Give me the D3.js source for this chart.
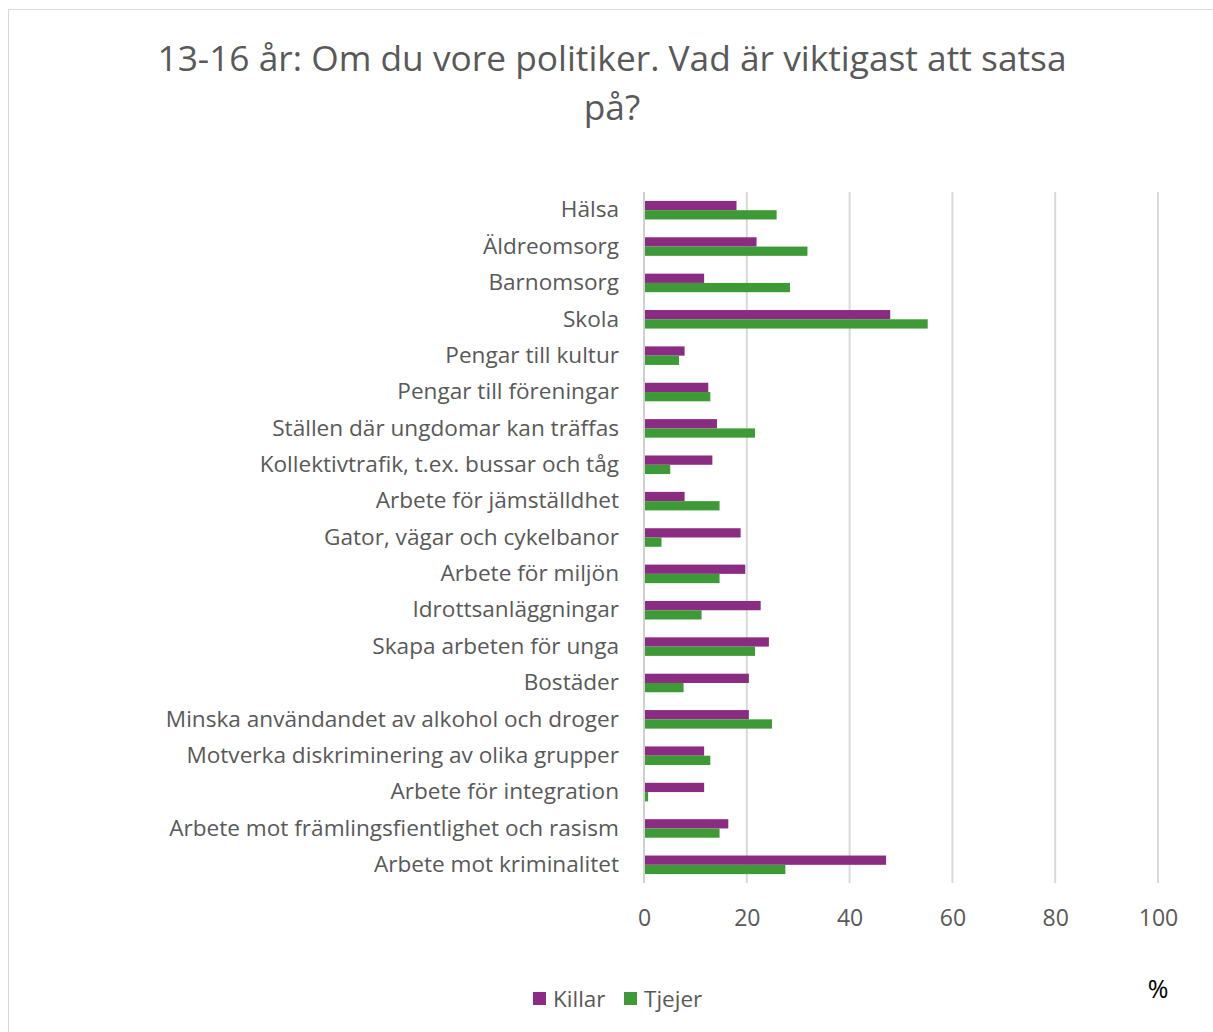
<!DOCTYPE html>
<html><head><meta charset="utf-8">
<script src="https://cdn.jsdelivr.net/npm/d3@7"></script>
<style>
body{margin:0;background:#fff;}
svg{display:block;font-family:"Open Sans",sans-serif;}
</style></head>
<body>
<svg id="chart" width="1213" height="1032"></svg>
<script>
const categories = ["Hälsa","Äldreomsorg","Barnomsorg","Skola","Pengar till kultur","Pengar till föreningar","Ställen där ungdomar kan träffas","Kollektivtrafik, t.ex. bussar och tåg","Arbete för jämställdhet","Gator, vägar och cykelbanor","Arbete för miljön","Idrottsanläggningar","Skapa arbeten för unga","Bostäder","Minska användandet av alkohol och droger","Motverka diskriminering av olika grupper","Arbete för integration","Arbete mot främlingsfientlighet och rasism","Arbete mot kriminalitet"];
const killar = [18.0,21.9,11.7,47.9,7.9,12.5,14.2,13.3,7.9,18.8,19.7,22.7,24.3,20.4,20.4,11.7,11.7,16.4,47.1];
const tjejer = [25.8,31.8,28.4,55.2,6.8,12.9,21.6,5.1,14.7,3.4,14.7,11.2,21.6,7.7,24.9,12.9,0.8,14.7,27.5];
const seriesNames = ["Killar","Tjejer"];
const seriesColors = ["#8B2C83","#3E9A36"];
const xTicks = [0,20,40,60,80,100];
const titleLines = ["13-16 år: Om du vore politiker. Vad är viktigast att satsa","på?"];
const unitLabel = "%";

const svg = d3.select("#chart");
svg.append("rect").attr("x",8.5).attr("y",9.5).attr("width",1300).attr("height",1100)
  .attr("fill","none").attr("stroke","#d9d9d9").attr("stroke-width",1);

const pLeft=644, pRight=1158, pTop=192, pBottom=883;
const x = d3.scaleLinear().domain([0,100]).range([pLeft,pRight]);
const y = d3.scaleBand().domain(categories).range([pTop,pBottom]).paddingInner(0.49).paddingOuter(0.245);
const sub = d3.scaleBand().domain(seriesNames).range([0,y.bandwidth()]);

svg.append("g").selectAll("text").data(titleLines).join("text")
  .attr("x",612).attr("y",(d,i)=>71+i*49).attr("text-anchor","middle")
  .attr("font-size",35.3).attr("fill","#595959").text(d=>d);

svg.append("g").selectAll("line").data(xTicks.slice(1)).join("line")
  .attr("x1",d=>x(d)).attr("x2",d=>x(d)).attr("y1",pTop).attr("y2",pBottom)
  .attr("stroke","#d9d9d9").attr("stroke-width",2);

const data = categories.map((c,i)=>({c, vals:[killar[i],tjejer[i]]}));
const g = svg.append("g").selectAll("g").data(data).join("g")
  .attr("transform",d=>`translate(0,${y(d.c)})`);
g.selectAll("rect").data(d=>d.vals.map((v,j)=>({v,s:seriesNames[j],col:seriesColors[j]}))).join("rect")
  .attr("x",x(0)+1).attr("y",d=>sub(d.s)).attr("height",sub.bandwidth())
  .attr("width",d=>x(d.v)-x(0)-1).attr("fill",d=>d.col);

svg.append("line").attr("x1",x(0)).attr("x2",x(0)).attr("y1",pTop).attr("y2",pBottom)
  .attr("stroke","#d0d0d0").attr("stroke-width",2);

const yAxis = d3.axisLeft(y).tickSize(0).tickPadding(25);
const ya = svg.append("g").attr("transform",`translate(${pLeft},0)`).call(yAxis);
ya.select(".domain").remove();
ya.selectAll("text").attr("font-size",22.6).attr("fill","#595959").attr("font-family","Open Sans, sans-serif");

const xAxis = d3.axisBottom(x).tickValues(xTicks).tickSize(0).tickPadding(27);
const xa = svg.append("g").attr("transform",`translate(0,${pBottom})`).call(xAxis);
xa.select(".domain").remove();
xa.selectAll("text").attr("font-size",23).attr("fill","#595959").attr("font-family","Open Sans, sans-serif");

const legX=[533,624];
const lg = svg.append("g").selectAll("g").data(seriesNames).join("g")
  .attr("transform",(d,i)=>`translate(${legX[i]},992)`);
lg.append("rect").attr("width",13).attr("height",13).attr("fill",(d,i)=>seriesColors[i]);
lg.append("text").attr("x",20).attr("y",15).attr("font-size",22.5).attr("fill","#595959").text(d=>d);

svg.append("text").attr("x",1158).attr("y",998).attr("text-anchor","middle")
  .attr("font-size",25).attr("fill","#000").text(unitLabel);
</script>
</body></html>
